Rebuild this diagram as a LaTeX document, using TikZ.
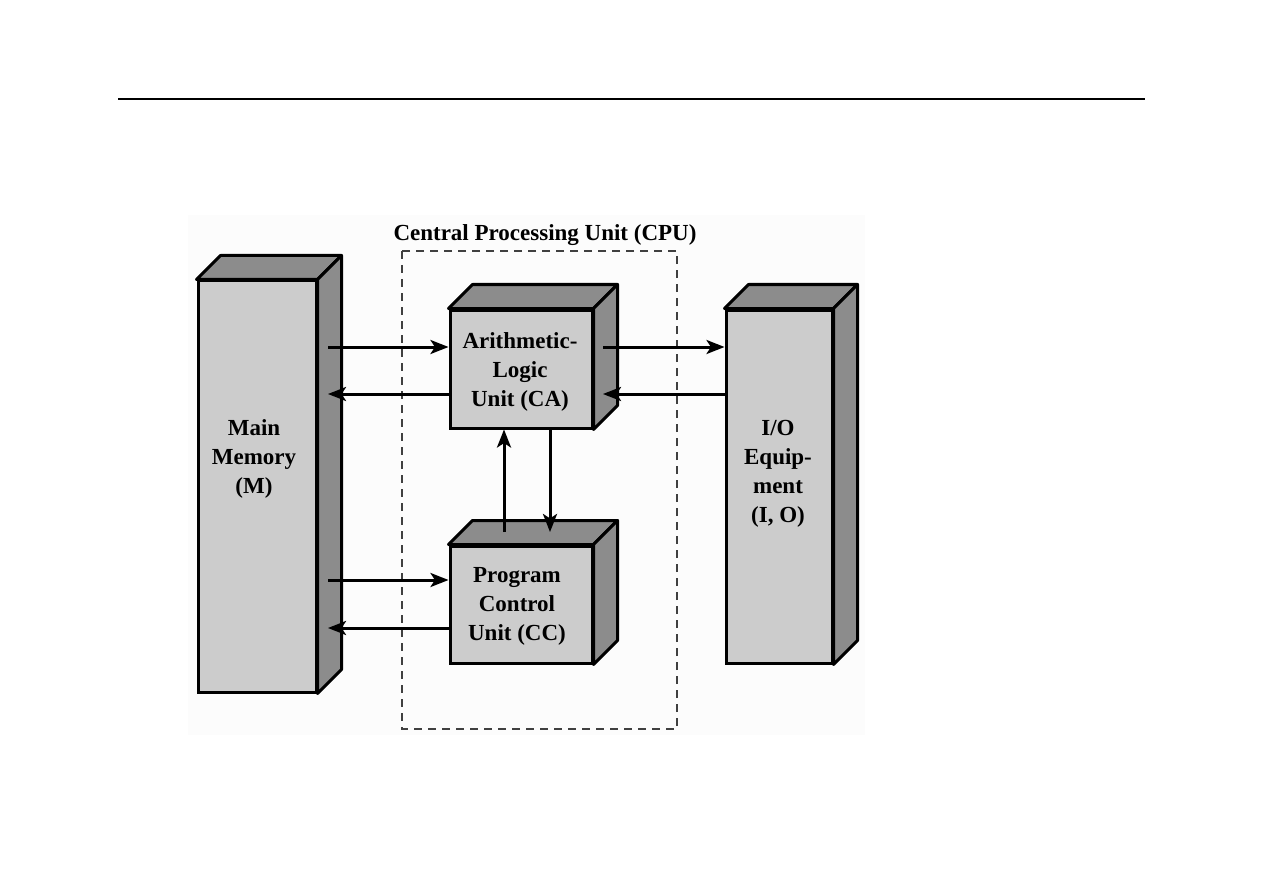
\documentclass[tikz,border=0pt]{standalone}
\usepackage{fontspec}
\setmainfont{Liberation Serif}
\usetikzlibrary{arrows.meta,calc}
\definecolor{facefront}{HTML}{CCCCCC}
\definecolor{faceside}{HTML}{8C8C8C}
\tikzset{
  box/.style={draw=black,line width=1.5pt,fill=facefront,rectangle,inner sep=0pt,line join=miter},
  side/.style={draw=black,line width=1.5pt,fill=faceside,line join=round},
  lbl/.style={font=\bfseries\fontsize{11.5}{14.5}\selectfont,align=center,inner sep=0pt},
  arr/.style={line width=1.5pt,-{Stealth[length=9pt,width=7pt,inset=2.2pt]}},
  cpubox/.style={draw=black!75,line width=0.7pt,dash pattern=on 4pt off 3pt},
}
\newcommand\cubefaces[1]{%
  \draw[side] (#1.north west) -- ++(24,-24) -- ($(#1.north east)+(24,-24)$) -- (#1.north east) -- cycle;
  \draw[side] (#1.north east) -- ++(24,-24) -- ($(#1.south east)+(24,-24)$) -- (#1.south east) -- cycle;
}
\begin{document}
\begin{tikzpicture}[x=0.5pt,y=-0.5pt]
\useasboundingbox (0,0) rectangle (1263,893);
\fill[white] (0,0) rectangle (1263,893);
\fill[black!1] (188,215) rectangle (865,735);
\draw[line width=0.6pt] (118,99) -- (1145,99);
% CPU dashed box
\draw[cpubox] (402,251) rectangle (677,729);
\node[lbl] (cputitle) at (545,235) {Central Processing Unit (CPU)};
% boxes
\node[box,minimum width=59pt,minimum height=205.5pt] (mm) at (257,486.5) {};
\cubefaces{mm}
\node[box,minimum width=71pt,minimum height=59pt] (alu) at (521,369) {};
\cubefaces{alu}
\node[box,minimum width=71pt,minimum height=58.5pt] (pcu) at (521,604.5) {};
\cubefaces{pcu}
\node[box,minimum width=53pt,minimum height=176.5pt] (io) at (779,486.5) {};
\cubefaces{io}
% labels
\node[lbl] (mmtext) at (254,459) {Main\\Memory\\(M)};
\node[lbl] (alutext) at (520,372) {Arithmetic-\\Logic\\Unit (CA)};
\node[lbl] (pcutext) at (517,606) {Program\\Control\\Unit (CC)};
\node[lbl] (iotext) at (778,474) {I/O\\Equip-\\ment\\(I, O)};
% connector end points inside the side faces
\coordinate (mmA) at (328,347);
\coordinate (mmB) at (328,394);
\coordinate (mmC) at (328,580);
\coordinate (mmD) at (328,628);
\coordinate (aluR1) at (603,347);
\coordinate (aluR2) at (603,394);
\coordinate (pcuT1) at (504,532);
\coordinate (pcuT2) at (550,532);
% arrows
\draw[arr] (mmA) -- (alu.west |- mmA);
\draw[arr] (alu.west |- mmB) -- (mmB);
\draw[arr] (aluR1) -- (io.west |- aluR1);
\draw[arr] (io.west |- aluR2) -- (aluR2);
\draw[arr] (mmC) -- (pcu.west |- mmC);
\draw[arr] (pcu.west |- mmD) -- (mmD);
\draw[arr] (pcuT1) -- (alu.south -| pcuT1);
\draw[arr] (alu.south -| pcuT2) -- (pcuT2);
\end{tikzpicture}
\end{document}
